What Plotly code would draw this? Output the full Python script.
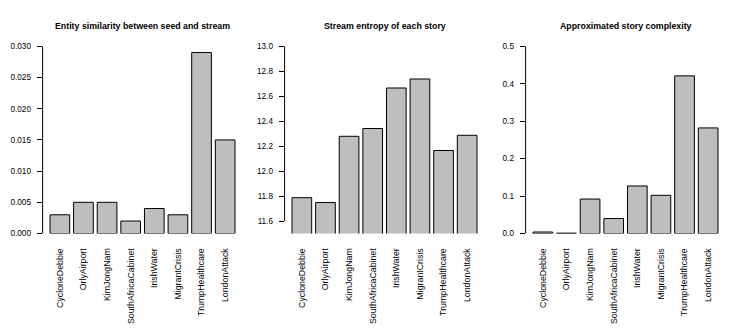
import plotly.graph_objects as go

# target window size; the page body keeps an 8px margin, so the figure is
# drawn that much smaller and every pixel position is shifted by it
W, H = 747, 332
OFF = 8
FW, FH = W - 2 * OFF, H - 2 * OFF

stories = ["CycloneDebbie", "OrlyAirport", "KimJongNam", "SouthAfricaCabinet",
           "IrishWater", "MigrantCrisis", "TrumpHealthcare", "LondonAttack"]

similarity = [0.003, 0.005, 0.005, 0.002, 0.004, 0.003, 0.029, 0.015]
entropy = [11.787, 11.748, 12.279, 12.341, 12.666, 12.738, 12.165, 12.287]
complexity = [0.004, 0.001, 0.092, 0.040, 0.127, 0.102, 0.421, 0.282]

titles = ["Entity similarity between seed and stream",
          "Stream entropy of each story",
          "Approximated story complexity"]

sim_ticks = [0.0, 0.005, 0.010, 0.015, 0.020, 0.025, 0.030]
ent_ticks = [11.6, 11.8, 12.0, 12.2, 12.4, 12.6, 12.8, 13.0]
cpx_ticks = [0.0, 0.1, 0.2, 0.3, 0.4, 0.5]

panels = [
    (similarity, sim_ticks, "%.3f", [0, 0.03]),
    (entropy, ent_ticks, "%.1f", [11.5, 13.0]),
    (complexity, cpx_ticks, "%.1f", [0, 0.5]),
]

# plot regions in window pixels
lefts = [42.6, 284.6, 525.6]
plot_w = 199.8
top_px, bottom_px = 43.3, 236.0


def px_x(px):
    return (px - OFF) / FW


def px_y(py):
    return 1 - (py - OFF) / FH


FONT = "Liberation Sans, Arial, Helvetica, sans-serif"

fig = go.Figure()
layout = dict(
    width=FW, height=FH,
    margin=dict(l=0, r=0, t=0, b=0),
    paper_bgcolor="white", plot_bgcolor="white",
    showlegend=False,
    bargap=0.2 / 1.2,
    font=dict(family=FONT, size=8, color="black"),
)
shapes = []
annotations = []

for i, (vals, ticks, fmt, yr) in enumerate(panels):
    n = "" if i == 0 else str(i + 1)
    fig.add_trace(go.Bar(
        x=stories, y=vals,
        xaxis="x" + n, yaxis="y" + n,
        marker=dict(color="#bebebe", line=dict(color="black", width=1)),
    ))
    x0 = px_x(lefts[i])
    x1 = px_x(lefts[i] + plot_w)
    layout["xaxis" + n] = dict(
        domain=[x0, x1], anchor="y" + n,
        type="category", range=[-0.73, 7.73],
        showgrid=False, zeroline=False, showline=False,
        ticks="", tickangle=-90, ticklabelstandoff=12,
        tickfont=dict(size=8.8, family=FONT),
        fixedrange=True,
    )
    layout["yaxis" + n] = dict(
        domain=[px_y(bottom_px), px_y(top_px)], anchor="x" + n,
        range=yr, showgrid=False, zeroline=False, showline=False,
        tickvals=ticks, ticktext=[fmt % t for t in ticks],
        ticks="outside", ticklen=5, tickwidth=1, tickcolor="black",
        ticklabelstandoff=4,
        tickfont=dict(size=8.2, family=FONT),
        fixedrange=True,
    )
    # R-style axis line: spans only first to last tick
    shapes.append(dict(
        type="line", xref="x" + n + " domain", yref="y" + n,
        x0=0, x1=0, y0=min(ticks), y1=max(ticks),
        line=dict(color="black", width=1),
    ))
    annotations.append(dict(
        text="<b>" + titles[i] + "</b>",
        xref="paper", yref="paper",
        x=(x0 + x1) / 2, y=px_y(22.7),
        xanchor="center", yanchor="middle", showarrow=False,
        font=dict(size=8.8, family=FONT, color="black"),
    ))

layout["shapes"] = shapes
layout["annotations"] = annotations
fig.update_layout(**layout)

fig.write_html("out.html")
